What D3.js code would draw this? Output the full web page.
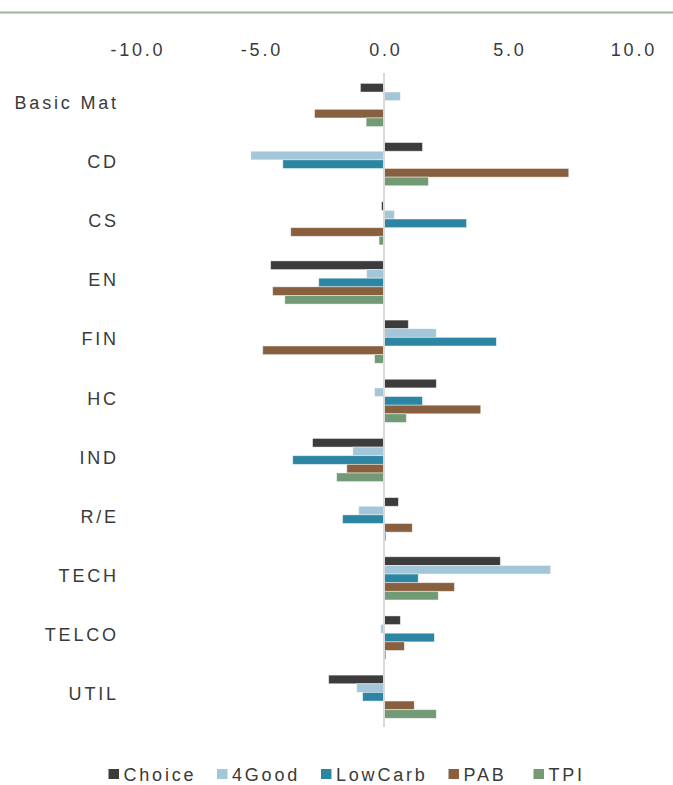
<!DOCTYPE html>
<html>
<head>
<meta charset="utf-8">
<script src="https://cdn.jsdelivr.net/npm/d3@7"></script>
<style>
  html, body { margin: 0; padding: 0; background: #fff; }
  svg { display: block; }
  text { font-family: "Liberation Sans", Arial, sans-serif; fill: #3a3a3a; }
</style>
</head>
<body>
<svg id="chart" width="673" height="785"></svg>
<script>
const categories = ["Basic Mat", "CD", "CS", "EN", "FIN", "HC", "IND", "R/E", "TECH", "TELCO", "UTIL"];
const seriesNames = ["Choice", "4Good", "LowCarb", "PAB", "TPI"];
const colors = ["#3c3c3c", "#a3c7d8", "#2b85a3", "#88603f", "#729a74"];
const choice  = [-0.95,  1.55, -0.10, -4.57,  0.98,  2.11, -2.88,  0.58,  4.69,  0.66, -2.23];
const good4   = [ 0.66, -5.37,  0.42, -0.70,  2.11, -0.38, -1.26, -1.02,  6.72, -0.13, -1.10];
const lowCarb = [ 0.00, -4.08,  3.33, -2.63,  4.53,  1.55, -3.68, -1.67,  1.38,  2.03, -0.86];
const pab     = [-2.80,  7.45, -3.76, -4.49, -4.89,  3.90, -1.50,  1.14,  2.84,  0.82,  1.22];
const tpi     = [-0.72,  1.79, -0.20, -4.00, -0.38,  0.90, -1.91,  0.08,  2.19,  0.08,  2.11];
const tickValues = [-10, -5, 0, 5, 10];

const seriesValues = [choice, good4, lowCarb, pab, tpi];
const svg = d3.select("#chart");
const FS = 18, LS = 2.8;

// top rule
svg.append("line")
  .attr("x1", 0).attr("x2", 673).attr("y1", 12.5).attr("y2", 12.5)
  .attr("stroke", "#9bb597").attr("stroke-width", 2);

const x = d3.scaleLinear().domain([-10, 10]).range([136, 632]);
const y0 = d3.scaleBand().domain(categories).range([75.4, 726.3])
  .paddingInner(0.27).paddingOuter(0.135);
const y1 = d3.scaleBand().domain(seriesNames).range([0, y0.bandwidth()]);

// value axis on top
const xAxis = d3.axisTop(x).tickValues(tickValues).tickSize(0).tickPadding(0)
  .tickFormat(d => d.toFixed(1));
const gx = svg.append("g").attr("transform", `translate(${LS / 2},55.5)`).call(xAxis);
gx.select(".domain").remove();
gx.selectAll("text").attr("font-size", FS).attr("letter-spacing", LS)
  .style("font-family", "Liberation Sans, Arial, sans-serif").attr("fill", "#3a3a3a");

// bars
const groups = svg.append("g").selectAll("g").data(categories).join("g")
  .attr("transform", d => `translate(0,${y0(d)})`);
groups.selectAll("rect")
  .data((c, i) => seriesNames.map((s, j) => ({ s, j, v: seriesValues[j][i] })))
  .join("rect")
  .attr("x", d => x(Math.min(0, d.v)))
  .attr("width", d => Math.abs(x(d.v) - x(0)))
  .attr("y", d => y1(d.s))
  .attr("height", y1.bandwidth())
  .attr("fill", d => colors[d.j])
  .attr("stroke", "rgba(255,255,255,0.55)")
  .attr("stroke-width", 0.8);

// zero line
svg.append("line")
  .attr("x1", x(0)).attr("x2", x(0)).attr("y1", 73).attr("y2", 727)
  .attr("stroke", "#d9d9d9").attr("stroke-width", 2);

// category axis
const yAxis = d3.axisLeft(y0).tickSize(0).tickPadding(0);
const gy = svg.append("g").attr("transform", `translate(${116 + LS},-2)`).call(yAxis);
gy.select(".domain").remove();
gy.selectAll("text").attr("font-size", FS).attr("letter-spacing", LS)
  .style("font-family", "Liberation Sans, Arial, sans-serif").attr("fill", "#3a3a3a");

// legend
const legendX = [108.5, 217, 321, 448.5, 533.5];
const lg = svg.append("g").selectAll("g").data(seriesNames).join("g")
  .attr("transform", (d, i) => `translate(${legendX[i]},774)`);
lg.append("rect").attr("x", 0).attr("y", -5).attr("width", 10.5).attr("height", 10)
  .attr("fill", (d, i) => colors[i]);
lg.append("text").attr("x", 15).attr("y", 6.5).text(d => d)
  .attr("font-size", FS).attr("letter-spacing", LS);
</script>
</body>
</html>
